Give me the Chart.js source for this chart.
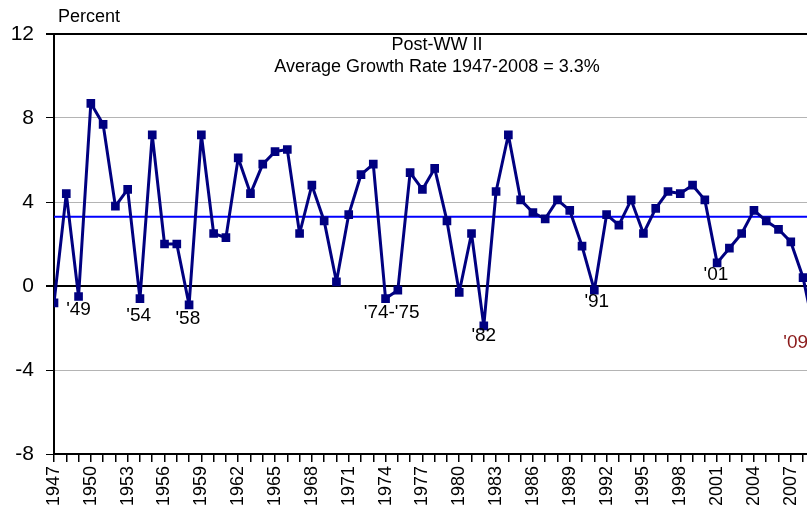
<!DOCTYPE html>
<html>
<head>
<meta charset="utf-8">
<script src="https://cdn.jsdelivr.net/npm/chart.js@4.4.1/dist/chart.umd.min.js"></script>
<style>
  body { margin: 0; background: #fff; }
  canvas { display: block; }
</style>
</head>
<body>
<canvas id="gdp" width="807" height="515"></canvas>
<script>
// annual real GDP growth, percent
const years = [];
for (let y = 1947; y <= 2009; y++) years.push(y);
const growth = [
  -0.8, 4.4, -0.5, 8.7, 7.7, 3.8, 4.6, -0.6, 7.2, 2.0,
  2.0, -0.9, 7.2, 2.5, 2.3, 6.1, 4.4, 5.8, 6.4, 6.5,
  2.5, 4.8, 3.1, 0.2, 3.4, 5.3, 5.8, -0.6, -0.2, 5.4,
  4.6, 5.6, 3.1, -0.3, 2.5, -1.9, 4.5, 7.2, 4.1, 3.5,
  3.2, 4.1, 3.6, 1.9, -0.2, 3.4, 2.9, 4.1, 2.5, 3.7,
  4.5, 4.4, 4.8, 4.1, 1.1, 1.8, 2.5, 3.6, 3.1, 2.7,
  2.1, 0.4, -2.4
];
const avgGrowth = 3.3;
const yTicks = [12, 8, 4, 0, -4, -8];

// recession year labels (text, year, value where the label sits)
const recLabels = [
  { text: "'49", x: 1949.0, y: -1.15 },
  { text: "'54", x: 1953.9, y: -1.43 },
  { text: "'58", x: 1957.9, y: -1.57 },
  { text: "'74-'75", x: 1974.5, y: -1.29 },
  { text: "'82", x: 1982.0, y: -2.38 },
  { text: "'91", x: 1991.2, y: -0.76 },
  { text: "'01", x: 2000.9, y: 0.52 },
  { text: "'09", x: 2007.4, y: -2.71, color: "#8b1a1a" }
];

const points = years.map((y, i) => ({ x: y, y: growth[i] }));
const avgLine = [{ x: 1947, y: avgGrowth }, { x: 2009, y: avgGrowth }];

const textPlugin = {
  id: "texts",
  afterDatasetsDraw(chart) {
    const ctx = chart.ctx;
    const xs = chart.scales.x, ys = chart.scales.y;
    ctx.save();
    ctx.fillStyle = "#000";
    ctx.textBaseline = "middle";
    ctx.textAlign = "left";
    ctx.font = "18px Arial, 'Liberation Sans'";
    ctx.fillText("Percent", 58, 17);
    ctx.textAlign = "center";
    ctx.font = "18px Arial, 'Liberation Sans'";
    ctx.fillText("Post-WW II", 437, 45);
    ctx.fillText("Average Growth Rate 1947-2008 = " + avgGrowth + "%", 437, 67);
    ctx.font = "19px Arial, 'Liberation Sans'";
    recLabels.forEach(l => {
      ctx.fillStyle = l.color || "#000";
      ctx.fillText(l.text, xs.getPixelForValue(l.x), ys.getPixelForValue(l.y));
    });
    ctx.restore();
  }
};

new Chart(document.getElementById("gdp"), {
  type: "line",
  data: {
    datasets: [
      {
        data: points,
        borderColor: "#000080",
        backgroundColor: "#000080",
        borderWidth: 3,
        borderJoinStyle: "round",
        pointStyle: "rect",
        pointRadius: 4,
        tension: 0,
        order: 1
      },
      {
        data: avgLine,
        borderColor: "#0000ff",
        borderWidth: 2,
        pointRadius: 0,
        order: 2
      }
    ]
  },
  options: {
    responsive: false,
    animation: false,
    layout: { autoPadding: false, padding: { top: 34, right: 0, left: 0, bottom: 0 } },
    plugins: { legend: { display: false }, tooltip: { enabled: false } },
    scales: {
      x: {
        type: "linear",
        min: 1947,
        max: 2008.32,
        afterFit: s => { s.height = 61; s.paddingLeft = 0; s.paddingRight = 0; },
        border: { color: "#000", width: 2 },
        grid: { drawOnChartArea: false, tickLength: 8, tickColor: "#000", lineWidth: 1.5 },
        ticks: {
          stepSize: 1,
          includeBounds: false,
          autoSkip: false,
          maxRotation: 90,
          minRotation: 90,
          padding: 4,
          color: "#000",
          font: { family: "Arial, 'Liberation Sans'", size: 18 },
          callback: v => ((v - 1947) % 3 === 0 ? String(v) : "")
        }
      },
      y: {
        min: -8,
        max: 12,
        afterFit: s => { s.width = 54; },
        afterBuildTicks: s => { s.ticks = yTicks.map(v => ({ value: v })); },
        border: { color: "#000", width: 2 },
        grid: {
          tickLength: 8,
          tickColor: "#000",
          color: c => (c.tick && (c.tick.value === 0 || c.tick.value === 12) ? "#000" : "#b4b4b4"),
          lineWidth: c => (c.tick && (c.tick.value === 0 || c.tick.value === 12) ? 2 : 1)
        },
        ticks: {
          padding: 12,
          color: "#000",
          font: { family: "Arial, 'Liberation Sans'", size: 21 }
        }
      }
    }
  },
  plugins: [textPlugin]
});
</script>
</body>
</html>
